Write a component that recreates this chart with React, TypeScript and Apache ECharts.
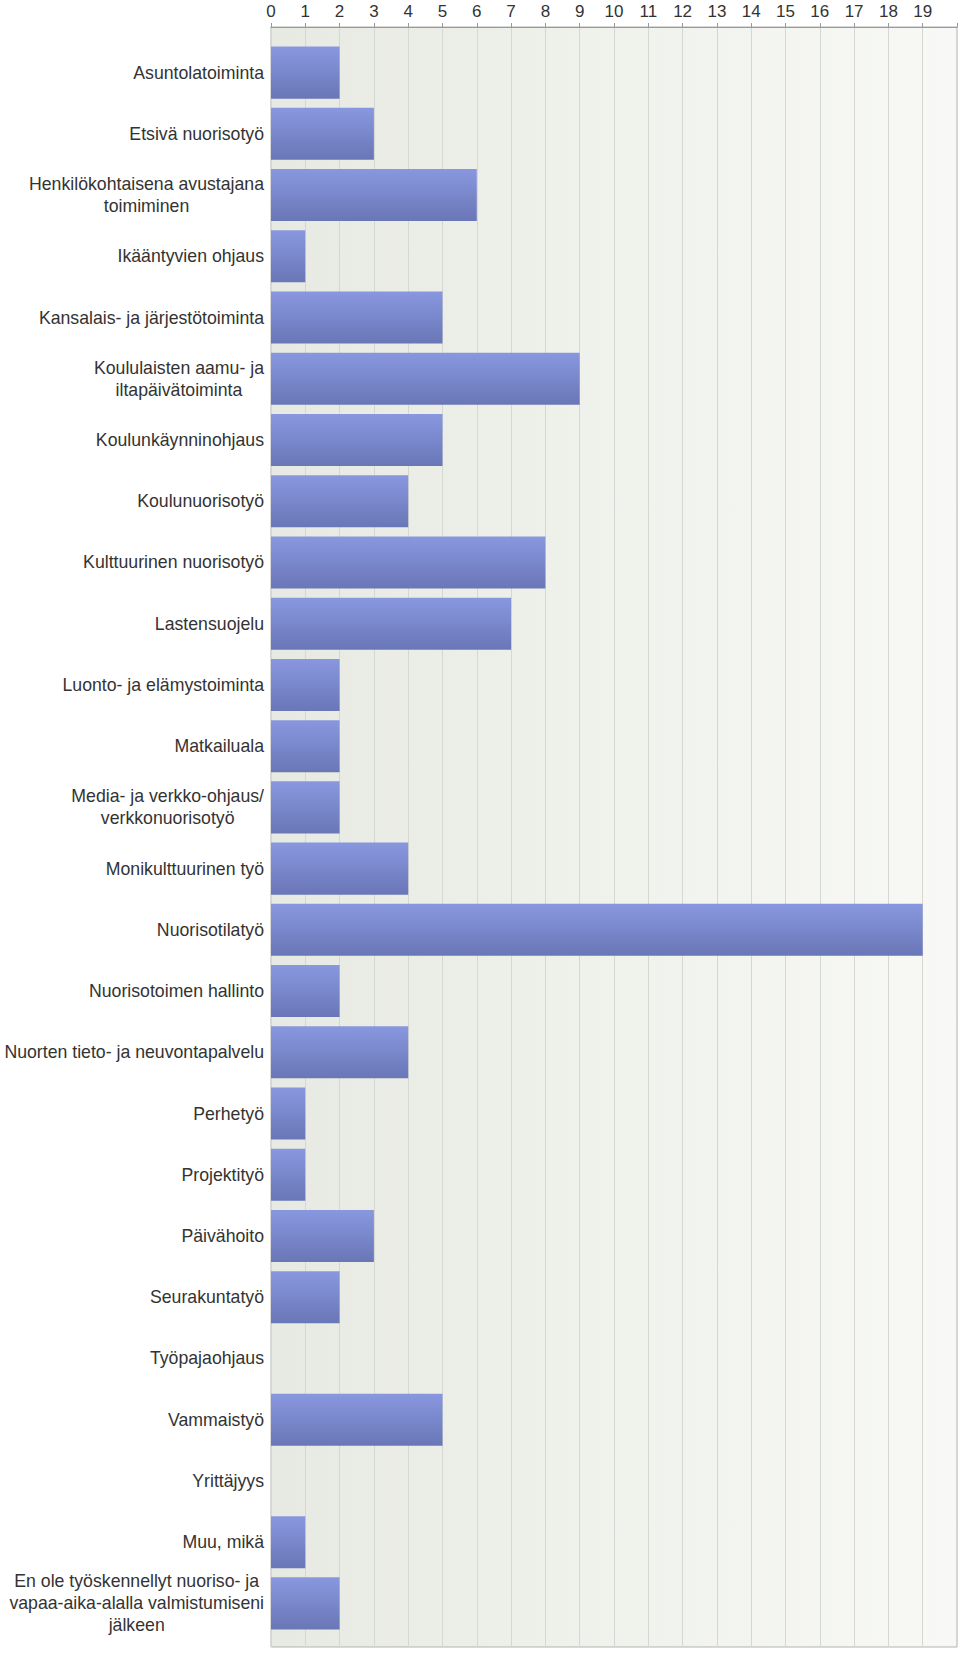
import React, { useEffect, useRef } from "react";
import * as echarts from "echarts";

const categories = [
  "Asuntolatoiminta",
  "Etsivä nuorisotyö",
  "Henkilökohtaisena avustajana\ntoimiminen",
  "Ikääntyvien ohjaus",
  "Kansalais- ja järjestötoiminta",
  "Koululaisten aamu- ja\niltapäivätoiminta",
  "Koulunkäynninohjaus",
  "Koulunuorisotyö",
  "Kulttuurinen nuorisotyö",
  "Lastensuojelu",
  "Luonto- ja elämystoiminta",
  "Matkailuala",
  "Media- ja verkko-ohjaus/\nverkkonuorisotyö",
  "Monikulttuurinen työ",
  "Nuorisotilatyö",
  "Nuorisotoimen hallinto",
  "Nuorten tieto- ja neuvontapalvelu",
  "Perhetyö",
  "Projektityö",
  "Päivähoito",
  "Seurakuntatyö",
  "Työpajaohjaus",
  "Vammaistyö",
  "Yrittäjyys",
  "Muu, mikä",
  "En ole työskennellyt nuoriso- ja\nvapaa-aika-alalla valmistumiseni\njälkeen",
];

const values = [2, 3, 6, 1, 5, 9, 5, 4, 8, 7, 2, 2, 2, 4, 19, 2, 4, 1, 1, 3, 2, 0, 5, 0, 1, 2];

const FONT = "Liberation Sans, Arial, Helvetica, sans-serif";

export default function App() {
  const ref = useRef<HTMLDivElement>(null);
  useEffect(() => {
    if (!ref.current) return;
    const chart = echarts.init(ref.current, undefined, { renderer: "svg" });
    chart.setOption({
      animation: false,
      grid: [
        {
          left: 271,
          top: 27,
          right: 3,
          bottom: 8,
          show: true,
          borderColor: "#b3b3b3",
          borderWidth: 1,
          backgroundColor: new echarts.graphic.LinearGradient(0, 0, 1, 0, [
            { offset: 0, color: "#e7eae2" },
            { offset: 1, color: "#f8f9f6" },
          ]),
        },
        { left: 271, top: 42, right: 3, bottom: 21 },
      ],
      xAxis: [
        {
          type: "value",
          gridIndex: 0,
          position: "top",
          min: 0,
          max: 20,
          interval: 1,
          axisLine: { show: true, lineStyle: { color: "#999999", width: 1 } },
          axisTick: { show: true, length: 4, lineStyle: { color: "#999999" } },
          axisLabel: {
            color: "#333333",
            fontSize: 17,
            fontFamily: FONT,
            margin: 7,
            formatter: (v: number) => (v === 20 ? "" : String(v)),
          },
          splitLine: { show: true, lineStyle: { color: "#d5d7d2", width: 1 } },
        },
        {
          type: "value",
          gridIndex: 1,
          min: 0,
          max: 20,
          interval: 1,
          show: false,
        },
      ],
      yAxis: [
        {
          type: "category",
          gridIndex: 0,
          data: categories,
          show: false,
        },
        {
          type: "category",
          gridIndex: 1,
          data: categories,
          inverse: true,
          axisLine: { show: false },
          axisTick: { show: false },
          axisLabel: {
            color: "#333333",
            fontSize: 17.7,
            lineHeight: 22,
            margin: 7,
            fontFamily: FONT,
            formatter: (v: string) =>
              v
                .split("\n")
                .map((l) => `{c|${l}}`)
                .join("\n"),
            rich: {
              c: {
                align: "center",
                color: "#333333",
                fontSize: 17.7,
                lineHeight: 22,
                fontFamily: FONT,
              },
            },
          },
        },
      ],
      series: [
        {
          type: "bar",
          xAxisIndex: 1,
          yAxisIndex: 1,
          data: values,
          barCategoryGap: "15%",
          itemStyle: {
            color: new echarts.graphic.LinearGradient(0, 0, 0, 1, [
              { offset: 0, color: "#8997df" },
              { offset: 1, color: "#6977b7" },
            ]),
            borderWidth: 0,
          },
        },
      ],
    });
    return () => chart.dispose();
  }, []);
  return (
    <div
      ref={ref}
      style={{ position: "absolute", left: 0, top: 0, width: 960, height: 1655 }}
    />
  );
}
